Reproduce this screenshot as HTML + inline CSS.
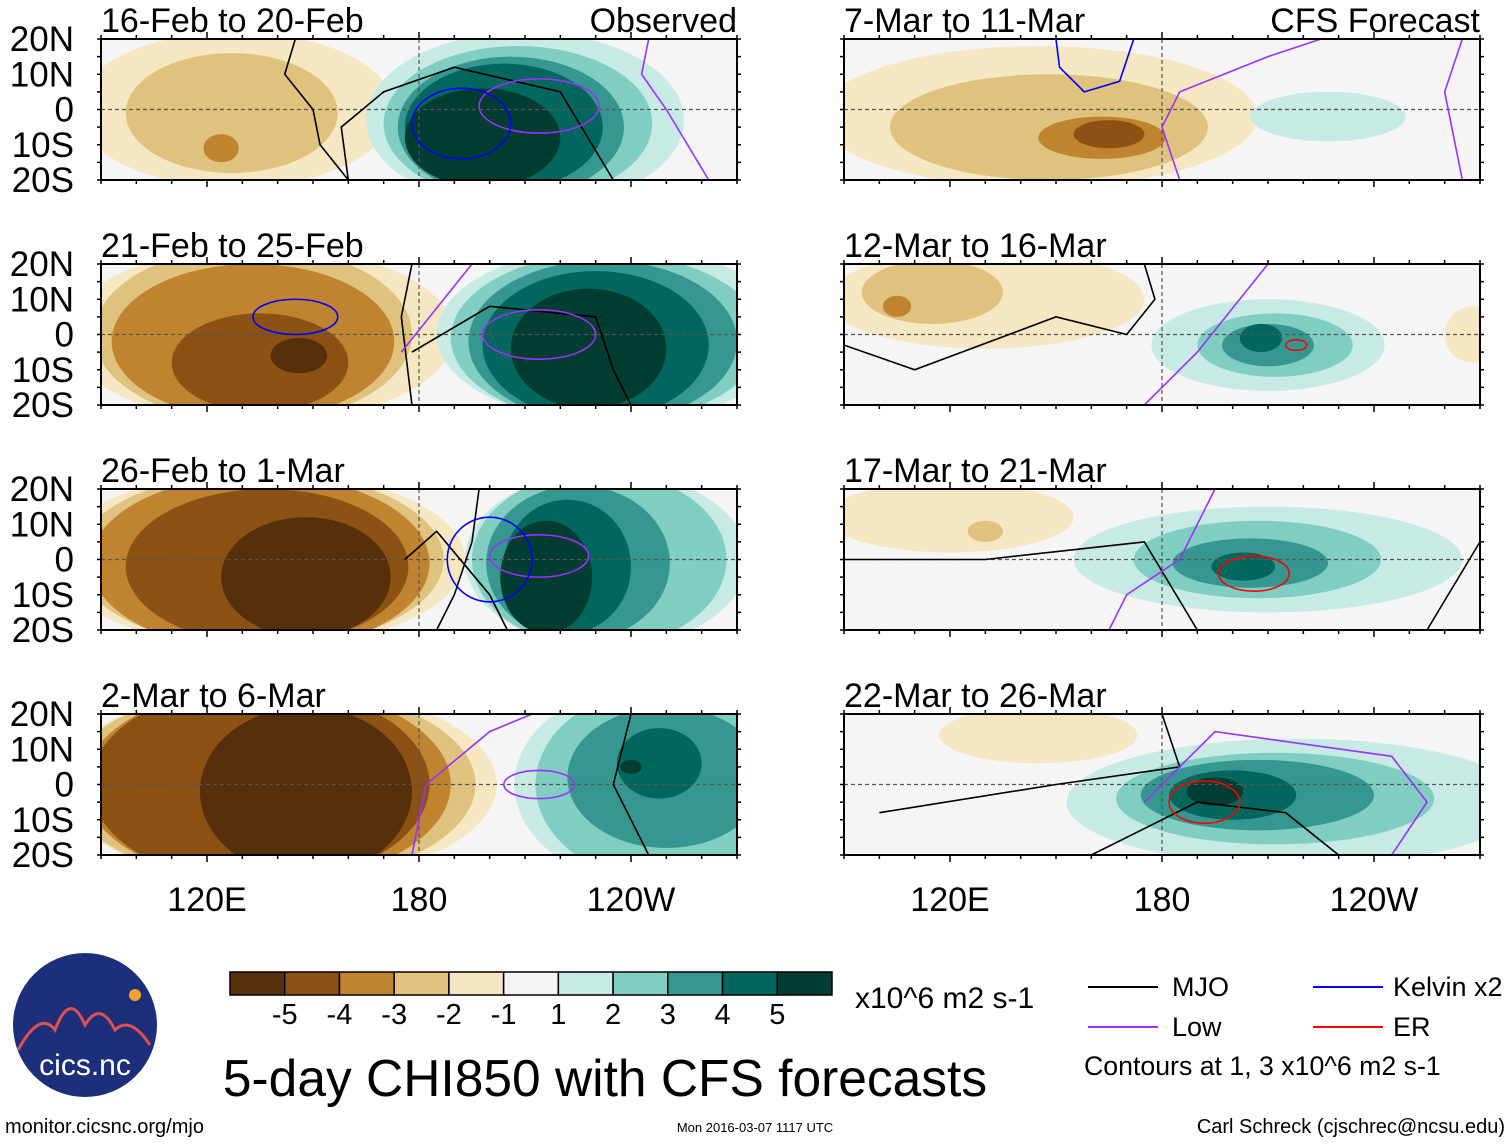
<!DOCTYPE html>
<html><head><meta charset="utf-8">
<style>
body{margin:0;background:#fff;}
svg text{font-family:"Liberation Sans",sans-serif;}
</style></head>
<body>
<svg id="fig" width="1510" height="1142" viewBox="0 0 1510 1142" xmlns="http://www.w3.org/2000/svg">
<g id="panels"></g>
<g id="legend">
  <g id="cbar"></g>
  <text x="855" y="1008" font-size="30">x10^6 m2 s-1</text>
  <line x1="1088" y1="987" x2="1158" y2="987" stroke="#000" stroke-width="2"/>
  <text x="1172" y="996" font-size="27">MJO</text>
  <line x1="1088" y1="1027" x2="1158" y2="1027" stroke="#9b30ff" stroke-width="2"/>
  <text x="1172" y="1036" font-size="27">Low</text>
  <line x1="1313" y1="987" x2="1383" y2="987" stroke="#0000ff" stroke-width="2"/>
  <text x="1393" y="996" font-size="27">Kelvin x2</text>
  <line x1="1313" y1="1027" x2="1383" y2="1027" stroke="#ff0000" stroke-width="2"/>
  <text x="1393" y="1036" font-size="27">ER</text>
  <text x="1084" y="1075" font-size="26.7">Contours at 1, 3 x10^6 m2 s-1</text>
</g>
<text x="605" y="1096" font-size="51.5" text-anchor="middle">5-day CHI850 with CFS forecasts</text>
<g>
  <circle cx="85" cy="1025" r="72" fill="#1d2f7a"/>
  <path d="M18 1050 Q40 1010 55 1030 Q70 990 85 1025 Q100 1000 115 1030 Q130 1015 150 1045" stroke="#e05050" stroke-width="3" fill="none"/>
  <circle cx="135" cy="995" r="6" fill="#f0a030"/>
  <text x="85" y="1075" font-size="30" fill="#fff" text-anchor="middle">cics.nc</text>
</g>
<text x="5" y="1133" font-size="20">monitor.cicsnc.org/mjo</text>
<text x="755" y="1132" font-size="13" text-anchor="middle">Mon 2016-03-07 1117 UTC</text>
<text x="1505" y="1133" font-size="20" text-anchor="end">Carl Schreck (cjschrec@ncsu.edu)</text>
</svg>
<script>
const colors=["#55300b","#8c5214","#c0832f","#dfc27e","#f5e7c2","#f5f5f5","#c7eae4","#80cdc1","#35978f","#01665e","#003c30"];
const cbarLabels=["-5","-4","-3","-2","-1","1","2","3","4","5"];
const panelTitles=["16-Feb to 20-Feb","7-Mar to 11-Mar","21-Feb to 25-Feb","12-Mar to 16-Mar","26-Feb to 1-Mar","17-Mar to 21-Mar","2-Mar to 6-Mar","22-Mar to 26-Mar"];
const panelTags=["Observed","CFS Forecast","","","","","",""];
const latTicks=[20,10,0,-10,-20];
const latLabels=["20N","10N","0","10S","20S"];
const lonTicks=[120,180,240];
const lonLabels=["120E","180","120W"];
// blobs: [lon, lat, rxDeg, ryDeg, level]
const blobs0=[[128,0,45,22,-1],[127,-1,30,17,-2],[124,-11,5,4,-3],
 [210,-3,45,25,1],[208,-4,38,22,2],[206,-5,32,20,3],[204,-5,28,18,4],[198,-8,22,14,5]];
const blobs1=[[135,0,55,25,-1],[133,0,45,25,-2],[133,-2,40,22,-3],[135,-8,25,14,-4],[146,-6,8,5,-5],
 [235,0,50,25,1],[233,-1,44,24,2],[232,-2,38,23,3],[230,-3,32,21,4],[228,-4,22,17,5]];
const blobs2=[[135,0,58,25,-1],[135,0,52,25,-2],[135,-1,48,25,-3],[137,-2,40,22,-4],[148,-5,24,17,-5],
 [233,0,40,25,1],[231,0,36,25,2],[225,-1,26,22,3],[222,-2,18,19,4],[216,-5,13,16,5]];
const blobs3=[[140,0,62,28,-1],[138,0,58,28,-2],[137,0,52,28,-3],[135,0,48,28,-4],[148,-2,30,24,-5],
 [245,0,38,28,1],[248,0,35,27,2],[250,2,28,20,3],[248,6,12,10,4],[240,5,3,2,5]];
const blobs4=[[145,-2,62,20,-1],[148,-5,45,15,-2],[163,-8,18,6,-3],[165,-7,10,4,-4],[227,-2,22,7,1]];
const blobs5=[[130,10,45,14,-1],[115,12,20,9,-2],[105,8,4,3,-3],[268,0,8,8,-1],
 [210,-3,33,13,1],[212,-3,22,9,2],[210,-3,13,6,3],[208,-1,6,4,4]];
const blobs6=[[120,12,35,10,-1],[130,8,5,3,-2],
 [210,0,55,15,1],[207,0,35,11,2],[205,-1,22,7,3],[203,-2,9,4,4]];
const blobs7=[[145,14,28,8,-1],
 [218,-5,65,18,1],[212,-4,45,13,2],[207,-3,33,10,3],[200,-3,18,7,4],[195,-2,8,4,5]];
const panelBlobs=[blobs0,blobs4,blobs1,blobs5,blobs2,blobs6,blobs3,blobs7];
// contour ellipses: [lon, lat, rx, ry, color]
const ell0=[[214,1,17,7.7,"#9b30ff"],[192,-4,14,10,"#0000ff"]];
const ell1=[[214,0,16,7,"#9b30ff"],[145,5,12,5,"#0000ff"]];
const ell2=[[214,1,14,6,"#9b30ff"],[200,0,12,12,"#0000ff"]];
const ell3=[[214,0,10,4,"#9b30ff"]];
const ell4=[];
const ell5=[[218,-3,3,1.5,"#ff0000"]];
const ell6=[[206,-4,10,5,"#ff0000"]];
const ell7=[[192,-5,10,6,"#ff0000"]];
const panelEll=[ell0,ell4,ell1,ell5,ell2,ell6,ell3,ell7];
// contour polylines: lon/lat pairs
const line0=[[[145,20],[142,10],[150,0],[152,-10],[160,-20]],[[160,-20],[158,-5],[170,5],[190,12],[220,5],[235,-20]],[[245,20],[243,10],[250,0],[262,-20]]];
const line1=[[[178,20],[175,5],[178,-20]],[[178,-5],[200,8],[230,5],[235,-10],[240,-20]],[[175,-5],[183,5],[195,20]]];
const line2=[[[197,20],[195,5],[190,-10],[185,-20]],[[176,0],[185,8],[200,-10],[205,-20]]];
const line3=[[[178,-20],[182,0],[200,15],[212,20]],[[240,20],[235,0],[245,-20]]];
const line4=[[[150,20],[151,12],[158,5],[168,8],[172,20]],[[185,-20],[180,-5],[185,5],[210,15],[225,20]],[[265,20],[260,5],[265,-20]]];
const line5=[[[90,-3],[110,-10],[150,5],[170,0],[178,10],[175,20]],[[175,-20],[190,-5],[210,20]]];
const line6=[[[90,0],[130,0],[175,5],[190,-20]],[[195,20],[185,0],[170,-10],[165,-20]],[[270,5],[255,-20]]];
const line7=[[[100,-8],[150,0],[185,5],[180,20]],[[160,-20],[190,-5],[215,-8],[230,-20]],[[175,-5],[195,15],[245,8],[255,-5],[245,-20]]];
const panelLines=[line0,line4,line1,line5,line2,line6,line3,line7];
const lineColors=[["#000","#000","#9b30ff"],["#0000ff","#9b30ff","#9b30ff"],["#000","#000","#9b30ff"],["#000","#9b30ff"],["#000","#000"],["#000","#9b30ff","#000"],["#9b30ff","#000"],["#000","#000","#9b30ff"]];

const NS="http://www.w3.org/2000/svg";
function mk(t,a,p){const e=document.createElementNS(NS,t);for(const k in a)e.setAttribute(k,a[k]);if(p)p.appendChild(e);return e;}
const W=636,H=141;
const colX=[101,844],rowY=[39,264,489,714];
const root=document.getElementById('panels');
for(let i=0;i<8;i++){
  const col=i%2,row=Math.floor(i/2);
  const x0=colX[col],y0=rowY[row];
  const xs=lon=>x0+(lon-90)*W/180;
  const ys=lat=>y0+(20-lat)*H/40;
  const g=mk('g',{},root);
  
  
  const cp=mk('clipPath',{id:'cp'+i},g);mk('rect',{x:x0,y:y0,width:W,height:H},cp);
  const inner=mk('g',{'clip-path':'url(#cp'+i+')'},g);
  mk('rect',{x:x0,y:y0,width:W,height:H,fill:colors[5]},inner);
  const bl=panelBlobs[i].slice().sort((a,b)=>Math.abs(a[4])-Math.abs(b[4]));
  bl.forEach(b=>{const e=mk('ellipse',{cx:xs(b[0]),cy:ys(b[1]),rx:b[2]*W/180,ry:b[3]*H/40,fill:colors[b[4]+5]},inner);
    });
  mk('line',{x1:x0,y1:ys(0),x2:x0+W,y2:ys(0),stroke:'#555','stroke-dasharray':'4,3','stroke-width':1.2},inner);
  mk('line',{x1:xs(180),y1:y0,x2:xs(180),y2:y0+H,stroke:'#555','stroke-dasharray':'4,3','stroke-width':1.2},inner);
  panelLines[i].forEach((ln,j)=>{const p=mk('polyline',{points:ln.map(q=>xs(q[0])+','+ys(q[1])).join(' '),fill:'none',stroke:lineColors[i][j]||'#000','stroke-width':1.6},inner);
    });
  panelEll[i].forEach(c=>{const e=mk('ellipse',{cx:xs(c[0]),cy:ys(c[1]),rx:c[2]*W/180,ry:c[3]*H/40,fill:'none',stroke:c[4],'stroke-width':1.6},inner);
    });
  mk('rect',{x:x0,y:y0,width:W,height:H,fill:'none',stroke:'#000','stroke-width':2},g);
  for(let lon=90;lon<=270;lon+=10){const maj=lonTicks.includes(lon);
    mk('line',{x1:xs(lon),y1:y0+H,x2:xs(lon),y2:y0+H+(maj?7:4),stroke:'#000','stroke-width':1.5},g);
    mk('line',{x1:xs(lon),y1:y0,x2:xs(lon),y2:y0-(maj?7:4),stroke:'#000','stroke-width':1.5},g);}
  for(let lat=-20;lat<=20;lat+=5){
    mk('line',{x1:x0,y1:ys(lat),x2:x0-4,y2:ys(lat),stroke:'#000','stroke-width':1.5},g);
    mk('line',{x1:x0+W,y1:ys(lat),x2:x0+W+4,y2:ys(lat),stroke:'#000','stroke-width':1.5},g);}
  const t=mk('text',{x:x0,y:y0-7,'font-size':34},g);t.textContent=panelTitles[i];
  
  if(panelTags[i]){const t2=mk('text',{x:x0+W,y:y0-7,'font-size':34,'text-anchor':'end'},g);t2.textContent=panelTags[i];
    }
  if(col===0){latTicks.forEach((lt,k)=>{const l=mk('text',{x:74,y:ys(lt)+12,'font-size':35,'text-anchor':'end'},g);l.textContent=latLabels[k];
    });}
  if(row===3){lonTicks.forEach((ln,k)=>{const l=mk('text',{x:xs(ln),y:911,'font-size':34,'text-anchor':'middle'},g);l.textContent=lonLabels[k];
    });}
}
const cb=document.getElementById('cbar');
const bw=602/11;
colors.forEach((c,k)=>{const r=mk('rect',{x:230+k*bw,y:972,width:bw,height:23,fill:c,stroke:'#000','stroke-width':1.5},cb);
  });
cbarLabels.forEach((s,k)=>{const t=mk('text',{x:230+(k+1)*bw,y:1024,'font-size':29,'text-anchor':'middle'},cb);t.textContent=s;
  });
</script>
</body></html>
